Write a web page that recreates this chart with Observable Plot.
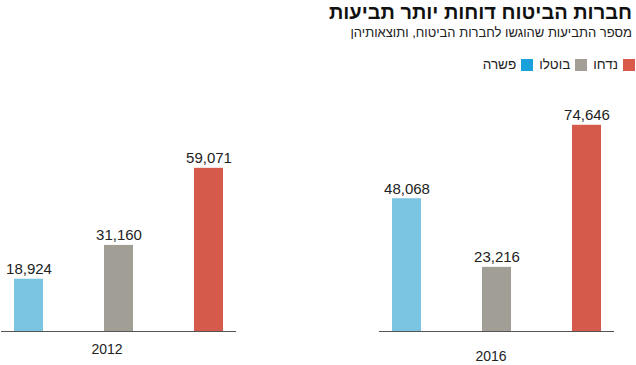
<!DOCTYPE html>
<html lang="he">
<head>
<meta charset="utf-8">
<script src="https://cdn.jsdelivr.net/npm/d3@7"></script>
<script src="https://cdn.jsdelivr.net/npm/@observablehq/plot@0.6"></script>
<style>
  html, body { margin: 0; padding: 0; background: #fff; }
  body { width: 636px; height: 365px; position: relative; overflow: hidden; font-family: "Liberation Sans", Arial, sans-serif; }
  #title { position: absolute; top: 0; right: 4px; font-size: 20px; line-height: 24px; font-weight: bold; color: #111; direction: rtl; white-space: nowrap; }
  #subtitle { position: absolute; top: 24px; right: 4px; font-size: 13px; line-height: 18px; color: #222; direction: rtl; white-space: nowrap; }
  #legend { position: absolute; top: 57px; right: 1px; display: flex; direction: rtl; font-size: 13.5px; line-height: 16px; color: #222; white-space: nowrap; }
  .item { display: flex; align-items: center; margin-left: 6px; }
  .sw { width: 12px; height: 12px; margin-left: 5px; display: inline-block; }
  #chart { position: absolute; top: 80px; left: 0; }
</style>
</head>
<body>
<div id="title"></div>
<div id="subtitle"></div>
<div id="legend"></div>
<div id="chart"></div>
<script>
const titleText = "חברות הביטוח דוחות יותר תביעות";
const subtitleText = "מספר התביעות שהוגשו לחברות הביטוח, ותוצאותיהן";
const years = ["2012", "2016"];
const categories = ["פשרה", "בוטלו", "נדחו"];
const values2012 = [18924, 31160, 59071];
const values2016 = [48068, 23216, 74646];
const barColors = ["#7bc5e3", "#a19e96", "#d55a4b"];
const legendColors = ["#19a1dc", "#a39f97", "#d9594a"];
const legendOrder = ["נדחו", "בוטלו", "פשרה"];

document.getElementById("title").textContent = titleText;
document.getElementById("subtitle").textContent = subtitleText;
const legend = document.getElementById("legend");
for (const name of legendOrder) {
  const i = categories.indexOf(name);
  const it = document.createElement("span");
  it.className = "item";
  const sw = document.createElement("span");
  sw.className = "sw";
  sw.style.background = legendColors[i];
  const tx = document.createElement("span");
  tx.textContent = name;
  it.appendChild(sw);
  it.appendChild(tx);
  legend.appendChild(it);
}

const data = [];
years.forEach((y, yi) => {
  const vals = yi === 0 ? values2012 : values2016;
  categories.forEach((c, ci) => data.push({year: y, category: c, value: vals[ci]}));
});

const fmt = d3.format(",");
const chart = Plot.plot({
  width: 636,
  height: 285,
  marginLeft: 0,
  marginRight: 21,
  marginTop: 30,
  marginBottom: 34,
  style: {fontFamily: "Liberation Sans, Arial, sans-serif", background: "#fff"},
  fx: {domain: years, paddingInner: 0.377, paddingOuter: 0, axis: null},
  x: {domain: categories, paddingInner: 0.68, paddingOuter: 0.137, axis: null},
  y: {domain: [0, 80000], axis: null},
  color: {domain: categories, range: barColors},
  marks: [
    Plot.barY(data, {fx: "year", x: "category", y: "value", fill: "category"}),
    Plot.text(data, {fx: "year", x: "category", y: "value", text: d => fmt(d.value), lineAnchor: "bottom", dy: -5, fontSize: 15, fill: "#222"}),
    Plot.ruleY([0], {stroke: "#555", strokeWidth: 1}),
    Plot.text([years[0]], {fx: d => d, text: d => d, frameAnchor: "bottom", lineAnchor: "middle", dy: 18, dx: -12, fontSize: 14, fill: "#222"}),
    Plot.text([years[1]], {fx: d => d, text: d => d, frameAnchor: "bottom", lineAnchor: "middle", dy: 25, dx: -6, fontSize: 14, fill: "#222"})
  ]
});
document.getElementById("chart").appendChild(chart);
</script>
</body>
</html>
